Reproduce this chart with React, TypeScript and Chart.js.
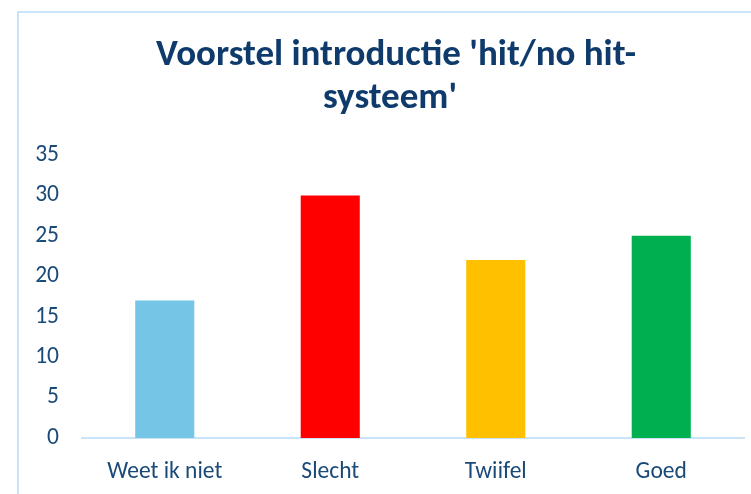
import React, { useEffect, useRef } from "react";
import { Chart, registerables } from "chart.js";

Chart.register(...registerables);

const categories = ["Weet ik niet", "Slecht", "Twijfel", "Goed"];
const values = [17, 30, 22, 25];
const barColors = ["#75C6E6", "#FF0000", "#FFC000", "#00B050"];
const titleLines = ["Voorstel introductie 'hit/no hit-", "systeem'"];
const yMax = 35;
const yStep = 5;

const FONT = "Carlito, 'Open Sans', sans-serif";

const framePlugin = {
  id: "frameAndTitle",
  beforeDraw(chart: any) {
    const ctx = chart.ctx;
    ctx.save();
    ctx.fillStyle = "#ffffff";
    ctx.fillRect(0, 0, chart.width, chart.height);
    ctx.strokeStyle = "#C9E3F8";
    ctx.lineWidth = 2;
    ctx.beginPath();
    ctx.moveTo(18, chart.height + 5);
    ctx.lineTo(18, 12);
    ctx.lineTo(chart.width + 5, 12);
    ctx.stroke();
    ctx.fillStyle = "#0E3B6B";
    ctx.font = `bold 37px ${FONT}`;
    ctx.textAlign = "center";
    ctx.textBaseline = "middle";
    ctx.fillText(titleLines[0], 396, 56);
    ctx.fillText(titleLines[1], 390, 99);
    ctx.restore();
  },
};

export default function App() {
  const ref = useRef<HTMLCanvasElement>(null);
  useEffect(() => {
    document.body.style.margin = "0";
    const chart = new Chart(ref.current!, {
      type: "bar",
      data: {
        labels: categories,
        datasets: [
          {
            data: values,
            backgroundColor: barColors,
            borderWidth: 0,
            categoryPercentage: 1,
            barPercentage: 0.357,
          },
        ],
      },
      options: {
        responsive: false,
        animation: false,
        layout: { padding: { left: 22, top: 155, right: 7, bottom: 16 } },
        plugins: {
          legend: { display: false },
          title: { display: false },
          tooltip: { enabled: false },
        },
        scales: {
          x: {
            afterFit: (s: any) => {
              s.height = 40;
            },
            grid: { display: false, drawTicks: false },
            border: { display: true, color: "#C9E3F8", width: 2 },
            ticks: {
              padding: 20,
              color: "#1A4A78",
              font: { family: FONT, size: 23.5 },
            },
          },
          y: {
            min: 0,
            max: yMax,
            afterFit: (s: any) => {
              s.width = 60;
            },
            grid: { display: false, drawTicks: false },
            border: { display: false },
            ticks: {
              stepSize: yStep,
              padding: 23,
              color: "#1A4A78",
              font: { family: FONT, size: 23.5 },
            },
          },
        },
      },
      plugins: [framePlugin],
    });
    return () => chart.destroy();
  }, []);
  return (
    <div style={{ position: "fixed", left: 0, top: 0, width: 751, height: 494 }}>
      <canvas ref={ref} width={751} height={494} />
    </div>
  );
}
